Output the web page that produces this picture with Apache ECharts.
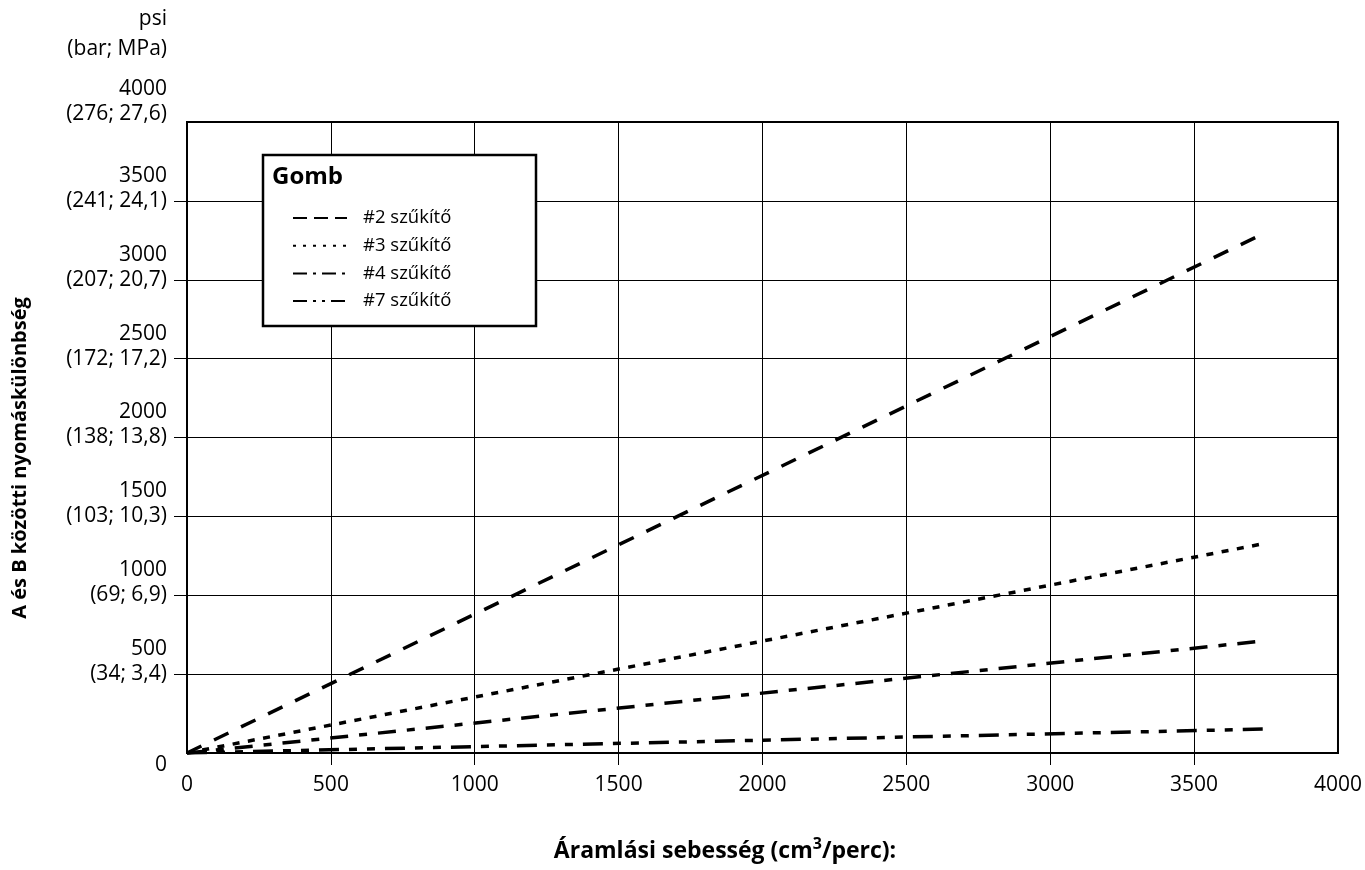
<!DOCTYPE html>
<html>
<head>
<meta charset="utf-8">
<script src="https://cdn.jsdelivr.net/npm/echarts@6/dist/echarts.min.js"></script>
<style>
html,body{margin:0;padding:0;background:#fff;}
#chart{width:1365px;height:870px;}
</style>
</head>
<body>
<div id="chart"></div>
<script>
// ---- data ----
var flowX = [0, 3750];                 // cm3/perc
var seriesNames = ['#2 szűkítő', '#3 szűkítő', '#4 szűkítő', '#7 szűkítő'];
var restrictor2 = [0, 3300];           // psi
var restrictor3 = [0, 1330];
var restrictor4 = [0, 712];
var restrictor7 = [0, 152];
var yTickValues = [0, 500, 1000, 1500, 2000, 2500, 3000, 3500, 4000];
var yTickPsi = ['0', '500', '1000', '1500', '2000', '2500', '3000', '3500', '4000'];
var yTickBarMpa = ['', '(34; 3,4)', '(69; 6,9)', '(103; 10,3)', '(138; 13,8)', '(172; 17,2)', '(207; 20,7)', '(241; 24,1)', '(276; 27,6)'];
var xTickValues = [0, 500, 1000, 1500, 2000, 2500, 3000, 3500, 4000];

var FONT = 'Open Sans';
var chart = echarts.init(document.getElementById('chart'));

function pairs(ys) { return flowX.map(function (x, i) { return [x, ys[i]]; }); }

var dashes = [[16, 14], [7, 8.5], [18, 11, 8, 11], [20, 10, 8, 10, 8, 10]];
var legendDashes = [[14, 7], [3, 7], [14, 6, 3, 6], [14, 6, 3, 6, 3, 6]];
var allData = [restrictor2, restrictor3, restrictor4, restrictor7];

var series = allData.map(function (d, i) {
  return {
    name: seriesNames[i],
    type: 'line',
    data: pairs(d),
    showSymbol: false,
    symbol: 'none',
    silent: true,
    z: 5,
    itemStyle: { color: '#000' },
    lineStyle: { color: '#000', width: 3.5, type: dashes[i], cap: 'butt' }
  };
});

var legendData = seriesNames.map(function (n, i) {
  return { name: n, lineStyle: { width: 2, color: '#000', type: legendDashes[i] } };
});

var option = {
  animation: false,
  backgroundColor: '#fff',
  textStyle: { fontFamily: FONT, color: '#000' },
  grid: {
    left: 187, top: 122, width: 1152, height: 631,
    show: true, borderColor: '#000', borderWidth: 2, backgroundColor: 'transparent'
  },
  legend: {
    orient: 'vertical',
    left: 292, top: 208,
    padding: 0,
    itemWidth: 54, itemHeight: 20, itemGap: 7.7,
    z: 20,
    selectedMode: false,
    data: legendData,
    itemStyle: { opacity: 0, borderWidth: 0 },
    lineStyle: { width: 2 },
    textStyle: { fontFamily: FONT, fontSize: 18.5, lineHeight: 20, color: '#000', padding: [0, 0, 0, 11] }
  },
  xAxis: {
    type: 'value', min: 0, max: 4000, interval: 500,
    axisLine: { show: true, lineStyle: { color: '#000', width: 2 } },
    axisTick: { show: true, inside: false, length: 12, lineStyle: { color: '#000', width: 1 }, customValues: [500, 1000, 1500, 2000, 2500, 3000, 3500] },
    splitLine: { show: true, lineStyle: { color: '#000', width: 1 } },
    axisLabel: {
      margin: 22, fontFamily: FONT, fontSize: 21, color: '#000',
      customValues: xTickValues,
      formatter: function (v) { return String(v); }
    }
  },
  yAxis: {
    type: 'value', min: 0, max: 4000, interval: 500,
    axisLine: { show: true, lineStyle: { color: '#000', width: 2 } },
    axisTick: { show: true, inside: false, length: 13, lineStyle: { color: '#000', width: 1 }, customValues: [500, 1000, 1500, 2000, 2500, 3000, 3500] },
    splitLine: { show: true, lineStyle: { color: '#000', width: 1 } },
    axisLabel: {
      margin: 20, fontFamily: FONT, fontSize: 21, color: '#000', align: 'right',
      customValues: yTickValues,
      formatter: function (v) {
        var i = yTickValues.indexOf(v);
        if (i < 0) return '';
        if (v === 0) return '{s| }\n{a|' + yTickPsi[i] + '}';
        if (v === 4000) return '{a|' + yTickPsi[i] + '}\n{a|' + yTickBarMpa[i] + '}\n{t| }';
        return '{a|' + yTickPsi[i] + '}\n{a|' + yTickBarMpa[i] + '}\n{s| }';
      },
      rich: {
        a: { fontFamily: FONT, fontSize: 21, lineHeight: 25, color: '#000', align: 'right' },
        s: { fontSize: 10, lineHeight: 25 },
        t: { fontSize: 10, lineHeight: 41 }
      }
    }
  },
  graphic: [
    {
      type: 'rect', z: 15,
      shape: { x: 263, y: 155, width: 273, height: 171 },
      style: { fill: '#fff', stroke: '#000', lineWidth: 2.5 }
    },
    {
      type: 'text', z: 16, left: 272, top: 165,
      style: { text: 'Gomb', font: 'bold 24px "Open Sans"', fill: '#000' }
    },
    {
      type: 'text', z: 16, x: 167, y: 19,
      style: { text: 'psi', font: '21px "Open Sans"', fill: '#000', align: 'right', verticalAlign: 'middle' }
    },
    {
      type: 'text', z: 16, x: 167, y: 49,
      style: { text: '(bar; MPa)', font: '21px "Open Sans"', fill: '#000', align: 'right', verticalAlign: 'middle' }
    },
    {
      type: 'text', z: 16, x: 20, y: 458, rotation: Math.PI / 2,
      style: {
        text: 'A és B közötti nyomáskülönbség', font: 'bold 20px "Open Sans"', fill: '#000',
        align: 'center', verticalAlign: 'middle'
      }
    },
    {
      type: 'text', z: 16, x: 725, y: 851,
      style: {
        text: '{b|Áramlási sebesség (cm}{sup|3}{b|/perc):}',
        align: 'center', verticalAlign: 'middle',
        rich: {
          b: { fontFamily: FONT, fontWeight: 'bold', fontSize: 23, color: '#000', lineHeight: 30 },
          sup: { fontFamily: FONT, fontWeight: 'bold', fontSize: 16, color: '#000', lineHeight: 16, verticalAlign: 'top' }
        }
      }
    }
  ],
  series: series
};
chart.setOption(option);
</script>
</body>
</html>
